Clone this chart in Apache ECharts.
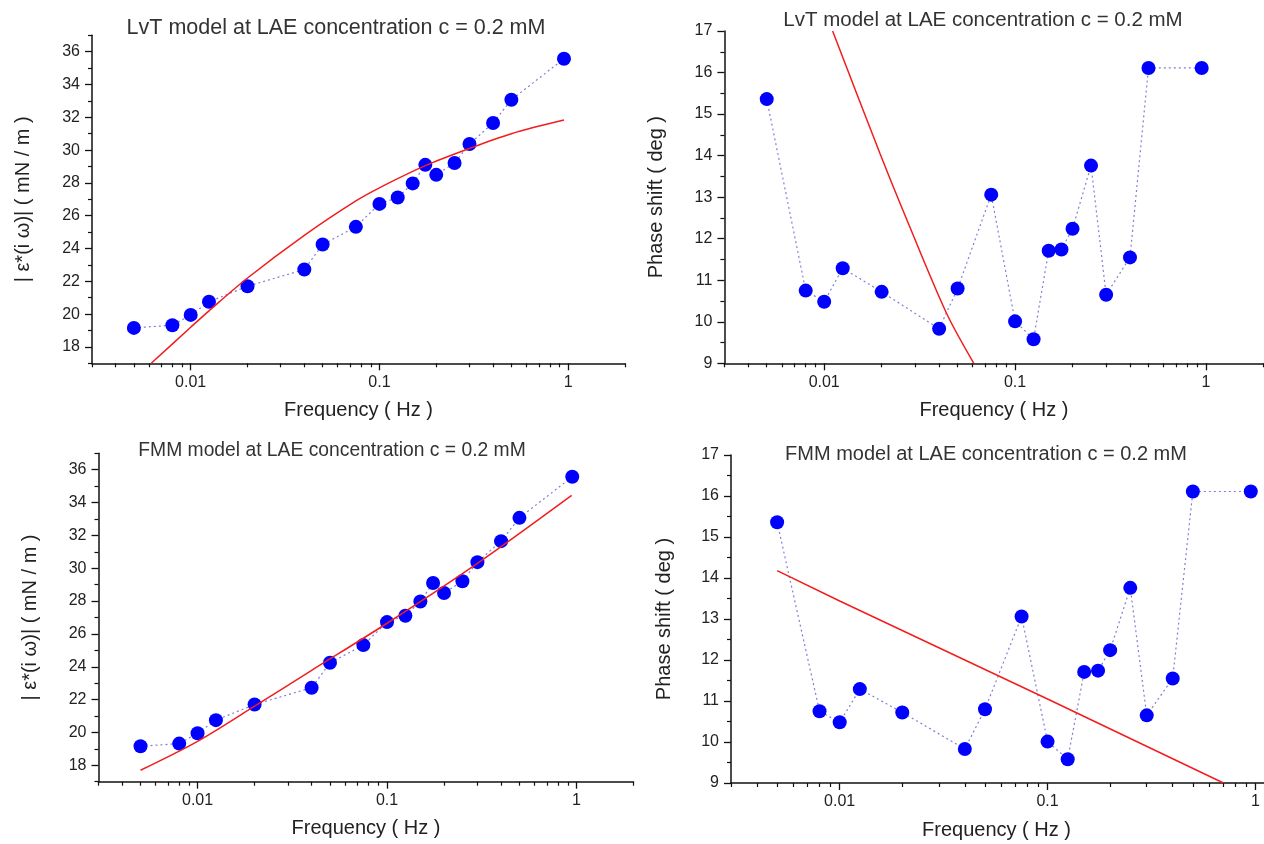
<!DOCTYPE html>
<html>
<head>
<meta charset="utf-8">
<script src="https://cdn.jsdelivr.net/npm/echarts@6/dist/echarts.min.js"></script>
<style>
html,body{margin:0;padding:0;background:#fff;}
#chart{width:1264px;height:844px;}
</style>
</head>
<body>
<div id="chart"></div>
<script>
// ---- data ----
const freq = [0.005, 0.008, 0.01, 0.0125, 0.02, 0.04, 0.05, 0.075, 0.1, 0.125, 0.15, 0.175, 0.2, 0.25, 0.3, 0.4, 0.5, 0.95];
const modulus = [19.16, 19.32, 19.95, 20.75, 21.70, 22.72, 24.24, 25.32, 26.72, 27.11, 27.97, 29.10, 28.49, 29.21, 30.37, 31.65, 33.07, 35.57];
const phase = [15.36, 10.75, 10.48, 11.29, 10.72, 9.83, 10.80, 13.06, 10.01, 9.58, 11.71, 11.74, 12.24, 13.76, 10.65, 11.55, 16.11, 16.11];

const lvtModFreq = [0.00618, 0.01, 0.0125, 0.02, 0.04, 0.075, 0.1, 0.175, 0.3, 0.5, 0.95];
const lvtModFit = [17.0, 19.2, 20.2, 22.2, 24.8, 26.9, 27.7, 29.05, 30.1, 31.0, 31.83];
const lvtPhaseFreq = [0.01107, 0.0196, 0.0281, 0.0438, 0.0608];
const lvtPhaseFit = [17.0, 14.05, 12.28, 10.20, 9.0];
const fmmModFreq = [0.005, 0.01, 0.02, 0.04, 0.1, 0.3, 0.943];
const fmmModFit = [17.70, 19.46, 21.6, 23.78, 26.65, 30.3, 34.44];
const fmmPhaseFreq = [0.005, 0.01, 0.1, 0.702];
const fmmPhaseFit = [14.18, 13.44, 11.05, 9.0];

const xMajorTicks = [0.01, 0.1, 1];
const xMinorTicks = [0.003, 0.004, 0.005, 0.006, 0.007, 0.008, 0.009, 0.02, 0.03, 0.04, 0.05, 0.06, 0.07, 0.08, 0.09, 0.2, 0.3, 0.4, 0.5, 0.6, 0.7, 0.8, 0.9, 2];
const modMajorTicks = [18, 20, 22, 24, 26, 28, 30, 32, 34, 36];
const modMinorTicks = [17, 19, 21, 23, 25, 27, 29, 31, 33, 35, 37];
const phaseMajorTicks = [9, 10, 11, 12, 13, 14, 15, 16, 17];
const phaseMinorTicks = [9.5, 10.5, 11.5, 12.5, 13.5, 14.5, 15.5, 16.5];

const titles = ['LvT model at LAE concentration c = 0.2 mM', 'LvT model at LAE concentration c = 0.2 mM',
                'FMM model at LAE concentration c = 0.2 mM', 'FMM model at LAE concentration c = 0.2 mM'];
const xName = 'Frequency ( Hz )';
const modName = '| \u03b5*(i \u03c9)| ( mN / m )';
const phaseName = 'Phase shift ( deg )';

// ---- layout ----
const FONT = "'Liberation Sans', Arial, sans-serif";
const panels = [
  {left: 92, top: 35.3, width: 533, height: 328, kind: 'mod', fitF: lvtModFreq, fitV: lvtModFit, smooth: 0.3, tx: 336, ty: 28, tfs: 21.5, yGap: 59, xPad: 0},
  {left: 724.4, top: 31, width: 539, height: 332.3, kind: 'phase', fitF: lvtPhaseFreq, fitV: lvtPhaseFit, smooth: 0.3, tx: 983, ty: 20, tfs: 20.5, yGap: 58, xPad: 0},
  {left: 98.5, top: 453.3, width: 535, height: 328.4, kind: 'mod', fitF: fmmModFreq, fitV: fmmModFit, smooth: 0.3, tx: 332, ty: 451, tfs: 19.3, yGap: 58, xPad: 0},
  {left: 731, top: 455, width: 587, height: 328, kind: 'phase', fitF: fmmPhaseFreq, fitV: fmmPhaseFit, smooth: false, tx: 986, ty: 454, tfs: 20, yGap: 57, xPad: 56}
];

const grid = [], xAxis = [], yAxis = [], series = [], title = [];
panels.forEach((p, i) => {
  grid.push({left: p.left, top: p.top, width: p.width, height: p.height, outerBoundsMode: 'none', containLabel: false});
  title.push({text: titles[i], left: p.tx, top: p.ty, textAlign: 'center', textVerticalAlign: 'middle', padding: 0,
    textStyle: {fontFamily: FONT, fontSize: p.tfs, fontWeight: 'normal', color: '#333'}});
  const isMod = p.kind === 'mod';
  const yMin = isMod ? 17 : 9, yMax = isMod ? 37 : 17;
  // main x axis
  xAxis.push({type: 'log', logBase: 10, gridIndex: i, min: 0.003, max: 2, position: 'bottom',
    name: xName, nameLocation: 'middle', nameGap: 37,
    nameTextStyle: {fontFamily: FONT, fontSize: 20, color: '#222', padding: [0, p.xPad, 0, 0]},
    axisLine: {show: true, onZero: false, lineStyle: {color: '#111', width: 1.5}},
    axisTick: {show: true, inside: false, length: 7, customValues: xMajorTicks, lineStyle: {color: '#111', width: 1.3}},
    axisLabel: {show: true, margin: 11, customValues: xMajorTicks, fontFamily: FONT, fontSize: 16, color: '#222',
      formatter: v => String(v)},
    splitLine: {show: false}, minorTick: {show: false}, minorSplitLine: {show: false}});
  // minor x ticks
  xAxis.push({type: 'log', logBase: 10, gridIndex: i, min: 0.003, max: 2, position: 'bottom',
    axisLine: {show: false, onZero: false},
    axisTick: {show: true, inside: false, length: 4, customValues: xMinorTicks, lineStyle: {color: '#111', width: 1.2}},
    axisLabel: {show: false}, splitLine: {show: false}});
  // main y axis
  yAxis.push({type: 'value', gridIndex: i, min: yMin, max: yMax, position: 'left',
    name: isMod ? modName : phaseName, nameLocation: 'middle', nameGap: p.yGap,
    nameTextStyle: {fontFamily: FONT, fontSize: 20, color: '#222'},
    axisLine: {show: true, onZero: false, lineStyle: {color: '#111', width: 1.5}},
    axisTick: {show: true, inside: false, length: 7, customValues: isMod ? modMajorTicks : phaseMajorTicks, lineStyle: {color: '#111', width: 1.3}},
    axisLabel: {show: true, margin: 12, customValues: isMod ? modMajorTicks : phaseMajorTicks, fontFamily: FONT, fontSize: 16, color: '#222'},
    splitLine: {show: false}});
  // minor y ticks
  yAxis.push({type: 'value', gridIndex: i, min: yMin, max: yMax, position: 'left',
    axisLine: {show: false, onZero: false},
    axisTick: {show: true, inside: false, length: 4, customValues: isMod ? modMinorTicks : phaseMinorTicks, lineStyle: {color: '#111', width: 1.2}},
    axisLabel: {show: false}, splitLine: {show: false}});

  const vals = isMod ? modulus : phase;
  series.push({type: 'line', xAxisIndex: 2 * i, yAxisIndex: 2 * i, z: 2,
    data: freq.map((f, k) => [f, vals[k]]),
    symbol: 'circle', symbolSize: 14, showSymbol: true,
    itemStyle: {color: '#0000ff', borderWidth: 0},
    lineStyle: {color: '#7f7fd4', width: 1.2, type: [2, 3]},
    emphasis: {disabled: true}, silent: true});
  series.push({type: 'line', xAxisIndex: 2 * i, yAxisIndex: 2 * i, z: 3,
    data: p.fitF.map((f, k) => [f, p.fitV[k]]),
    symbol: 'none', smooth: p.smooth, clip: true,
    lineStyle: {color: '#f21d1d', width: 1.5},
    emphasis: {disabled: true}, silent: true});
});

const chart = echarts.init(document.getElementById('chart'), null, {renderer: 'canvas'});
chart.setOption({
  animation: false,
  backgroundColor: '#ffffff',
  textStyle: {fontFamily: FONT},
  title, grid, xAxis, yAxis, series
});
</script>
</body>
</html>
